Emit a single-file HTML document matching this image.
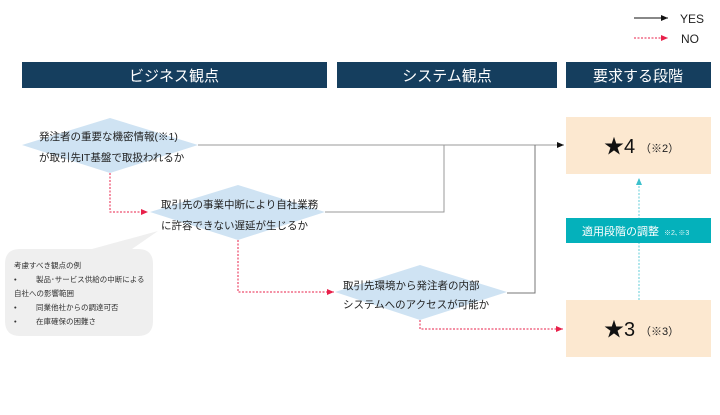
<!DOCTYPE html>
<html><head><meta charset="utf-8"><style>
body{margin:0;width:720px;height:410px;background:#fff;overflow:hidden;font-family:"Liberation Sans","Noto Sans CJK JP",sans-serif;}
</style></head><body>
<svg width="720" height="410" xmlns="http://www.w3.org/2000/svg" style="font-family:'Liberation Sans','Noto Sans CJK JP',sans-serif">
<defs>
<marker id="ak" markerWidth="8" markerHeight="8" refX="7" refY="4" orient="auto" markerUnits="userSpaceOnUse"><path d="M0,1 L7,4 L0,7z" fill="#111"/></marker>
<marker id="ar" markerWidth="8" markerHeight="8" refX="7" refY="4" orient="auto" markerUnits="userSpaceOnUse"><path d="M0,1 L7,4 L0,7z" fill="#e8204a"/></marker>
<marker id="ac" markerWidth="8" markerHeight="8" refX="7" refY="4" orient="auto" markerUnits="userSpaceOnUse"><path d="M0,1 L7,4 L0,7z" fill="#3cc0cc"/></marker>
</defs>
<line x1="634" y1="18" x2="668" y2="18" stroke="#111" stroke-width="1" marker-end="url(#ak)"/>
<text x="680" y="23" font-size="12" fill="#222">YES</text>
<line x1="634" y1="38" x2="668" y2="38" stroke="#e8204a" stroke-width="1" stroke-dasharray="2,1.5" marker-end="url(#ar)"/>
<text x="681" y="43" font-size="12" fill="#222">NO</text>
<rect x="22" y="62" width="305" height="26" fill="#153e5e"/>
<text x="174" y="81" font-size="15" fill="#fff" text-anchor="middle">ビジネス観点</text>
<rect x="337" y="62" width="220" height="26" fill="#153e5e"/>
<text x="447" y="81" font-size="15" fill="#fff" text-anchor="middle">システム観点</text>
<rect x="566" y="62" width="145" height="26" fill="#153e5e"/>
<text x="638" y="81" font-size="15" fill="#fff" text-anchor="middle">要求する段階</text>
<line x1="198" y1="145" x2="564" y2="145" stroke="#999" stroke-width="1" marker-end="url(#ak)"/>
<polyline points="325,212 444,212 444,145" fill="none" stroke="#999"/>
<polyline points="507,293 535,293 535,145" fill="none" stroke="#777"/>
<g stroke="#e8204a" stroke-width="1" stroke-dasharray="2,1.5" fill="none">
<polyline points="110,173 110,212 148,212" marker-end="url(#ar)"/>
<polyline points="238,240 238,292 334,292" marker-end="url(#ar)"/>
<polyline points="420,320 420,329 563,329" marker-end="url(#ar)"/>
</g>
<polygon points="22,145 110,118 198,145 110,173" fill="#cfe3f3"/>
<polygon points="150,212 238,185 325,212 238,240" fill="#cfe3f3"/>
<polygon points="335,292 420,265 507,292 420,320" fill="#cfe3f3"/>
<g font-size="10.5" fill="#222">
<text x="39" y="140">発注者の重要な機密情報(※1)</text>
<text x="39" y="161">が取引先IT基盤で取扱われるか</text>
<text x="161" y="208">取引先の事業中断により自社業務</text>
<text x="161" y="229">に許容できない遅延が生じるか</text>
<text x="343" y="289">取引先環境から発注者の内部</text>
<text x="343" y="308">システムへのアクセスが可能か</text>
</g>
<path d="M20,249 L92,249 L158,231 L132,249 L138,249 Q153,249 153,264 L153,321 Q153,336 138,336 L20,336 Q5,336 5,321 L5,264 Q5,249 20,249z" fill="#efefef"/>
<g font-size="7.5" fill="#333">
<text x="14" y="268">考慮すべき観点の例</text>
<text x="14" y="282">•</text><text x="36" y="282">製品･サービス供給の中断による</text>
<text x="14" y="296">自社への影響範囲</text>
<text x="14" y="310">•</text><text x="36" y="310">同業他社からの調達可否</text>
<text x="14" y="324">•</text><text x="36" y="324">在庫確保の困難さ</text>
</g>
<rect x="566" y="117" width="145" height="57" fill="#fce8d0"/>
<text x="604" y="153" font-size="20" fill="#111">★4</text>
<text x="640" y="152" font-size="11" fill="#222">（※2）</text>
<rect x="566" y="300" width="145" height="57" fill="#fce8d0"/>
<text x="604" y="336" font-size="20" fill="#111">★3</text>
<text x="640" y="335" font-size="11" fill="#222">（※3）</text>
<line x1="639" y1="300" x2="639" y2="178" stroke="#7dd6de" stroke-width="1.2" stroke-dasharray="2,1.5" marker-end="url(#ac)"/>
<rect x="566" y="218" width="145" height="25" fill="#04b1bb"/>
<text x="582" y="235" font-size="11" fill="#fff">適用段階の調整</text>
<text x="664" y="235" font-size="7" fill="#e0f7f8">※2､※3</text>
</svg>
</body></html>
